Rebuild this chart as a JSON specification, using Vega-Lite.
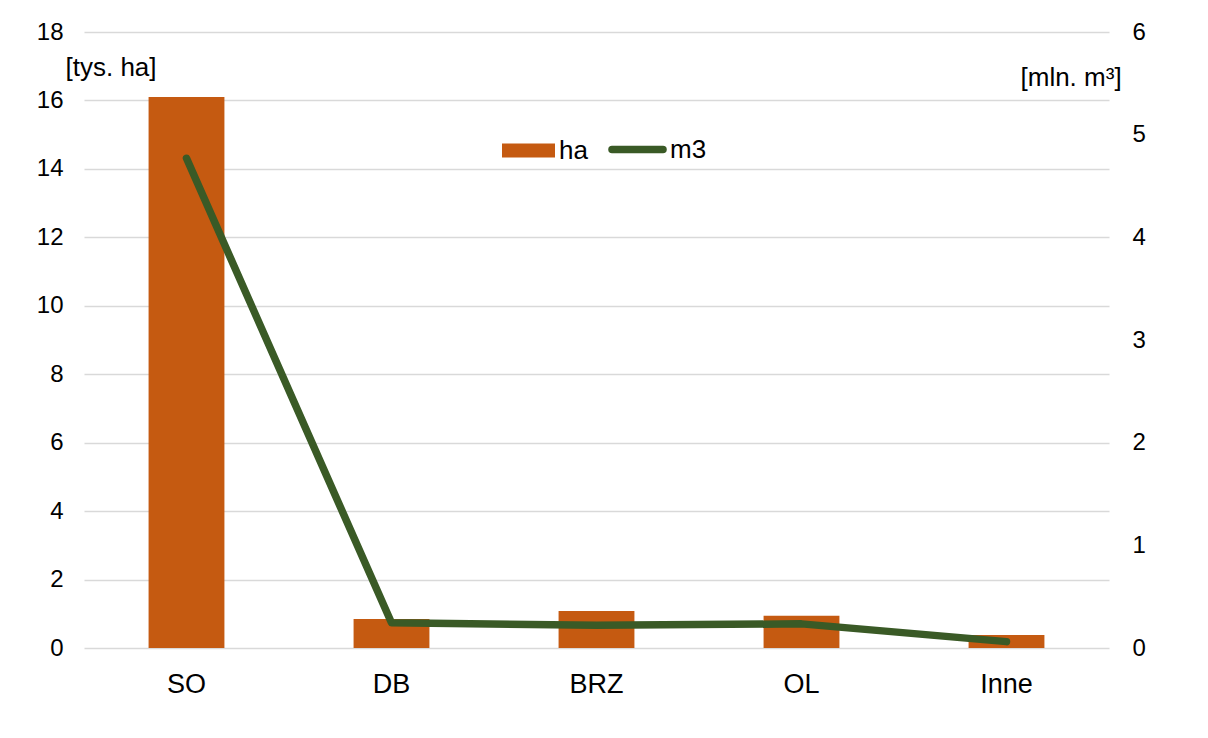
{
  "$schema": "https://vega.github.io/schema/vega-lite/v6.json",
  "width": 1025,
  "height": 616,
  "autosize": "none",
  "padding": {"left": 84, "top": 32, "right": 99, "bottom": 90},
  "background": "white",
  "config": {
    "font": "Liberation Sans",
    "view": {"stroke": null},
    "axis": {"labelFont": "Liberation Sans", "titleFont": "Liberation Sans", "labelColor": "#000000", "titleColor": "#000000", "titleFontWeight": "normal"}
  },
  "data": {
    "values": [
      {"cat": "SO", "ha": 16.1, "m3": 4.77},
      {"cat": "DB", "ha": 0.85, "m3": 0.245},
      {"cat": "BRZ", "ha": 1.08, "m3": 0.222},
      {"cat": "OL", "ha": 0.94, "m3": 0.235},
      {"cat": "Inne", "ha": 0.38, "m3": 0.062}
    ]
  },
  "encoding": {
    "x": {
      "field": "cat",
      "type": "nominal",
      "sort": null,
      "scale": {"paddingInner": 0.63, "paddingOuter": 0.315},
      "axis": {"title": null, "labelAngle": 0, "labelFontSize": 27, "labelPadding": 23, "ticks": false, "domain": false, "grid": false}
    }
  },
  "layer": [
    {
      "mark": {"type": "bar", "color": "#C55A11"},
      "encoding": {
        "y": {
          "field": "ha",
          "type": "quantitative",
          "scale": {"domain": [0, 18], "nice": false},
          "axis": {
            "orient": "left",
            "values": [0, 2, 4, 6, 8, 10, 12, 14, 16, 18],
            "title": "[tys. ha]",
            "titleAngle": 0,
            "titleAlign": "left",
            "titleBaseline": "middle",
            "titleX": -19,
            "titleY": 35,
            "titleFontSize": 26,
            "labelFontSize": 24,
            "labelPadding": 21,
            "ticks": false,
            "domain": false,
            "grid": true,
            "gridColor": "#D9D9D9",
            "gridWidth": 1.5
          }
        },
        "fill": {
          "datum": "ha",
          "type": "nominal",
          "scale": {"domain": ["ha"], "range": ["#C55A11"]},
          "legend": {
            "title": null,
            "orient": "none",
            "legendX": 418,
            "legendY": 92,
            "symbolType": "M-1,-0.264H1V0.264H-1Z",
            "symbolSize": 2809,
            "symbolStrokeWidth": 0,
            "labelFontSize": 26,
            "labelColor": "#000000",
            "labelOffset": 4
          }
        }
      }
    },
    {
      "mark": {"type": "line", "color": "#3A5A26", "strokeWidth": 7.5, "strokeCap": "round", "strokeJoin": "round"},
      "encoding": {
        "y": {
          "field": "m3",
          "type": "quantitative",
          "scale": {"domain": [0, 6], "nice": false},
          "axis": {
            "orient": "right",
            "values": [0, 1, 2, 3, 4, 5, 6],
            "title": "[mln. m³]",
            "titleAngle": 0,
            "titleAlign": "left",
            "titleBaseline": "middle",
            "titleX": -89,
            "titleY": 45,
            "titleFontSize": 26,
            "labelFontSize": 24,
            "labelPadding": 23,
            "ticks": false,
            "domain": false,
            "grid": false
          }
        },
        "stroke": {
          "datum": "m3",
          "type": "nominal",
          "scale": {"domain": ["m3"], "range": ["#3A5A26"]},
          "legend": {
            "title": null,
            "orient": "none",
            "legendX": 524,
            "legendY": 88,
            "symbolType": "stroke",
            "symbolSize": 2601,
            "symbolStrokeWidth": 7.5,
            "labelFontSize": 26,
            "labelColor": "#000000",
            "labelOffset": 3,
            "symbolStrokeColor": "#3A5A26",
            "encode": {"symbols": {"update": {"strokeCap": {"value": "round"}}}}
          }
        }
      }
    }
  ],
  "resolve": {"scale": {"y": "independent", "fill": "independent", "stroke": "independent"}}
}
